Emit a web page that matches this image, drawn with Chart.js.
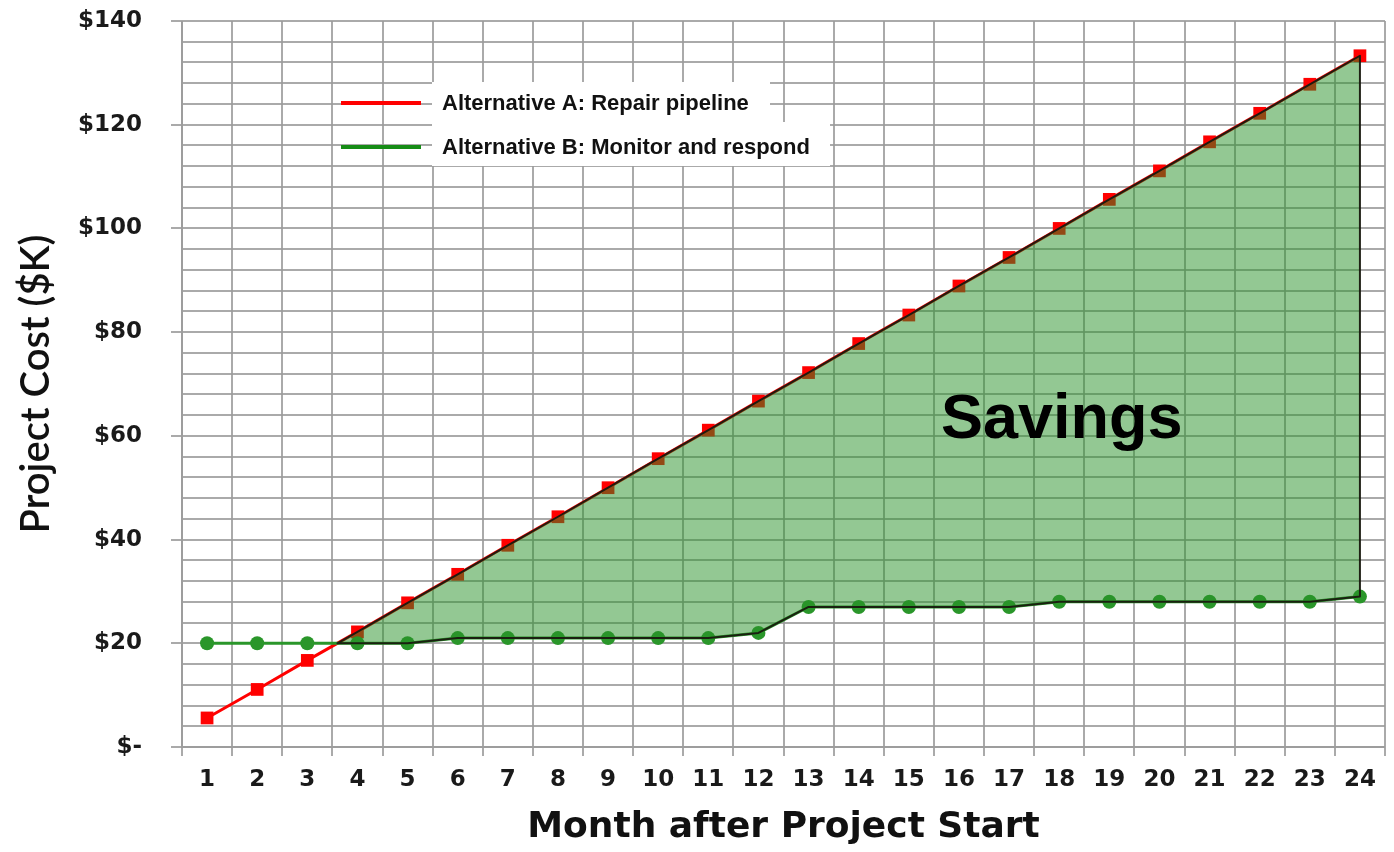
<!DOCTYPE html>
<html>
<head>
<meta charset="utf-8">
<script src="https://cdn.jsdelivr.net/npm/chart.js@4"></script>
<style>
  html, body { margin: 0; padding: 0; background: #ffffff; }
  #wrap { width: 1394px; height: 852px; }
</style>
</head>
<body>
<div id="wrap"><canvas id="c" width="1394" height="852"></canvas></div>
<script>
// ---- data ----
const months = ['1','2','3','4','5','6','7','8','9','10','11','12','13','14','15','16','17','18','19','20','21','22','23','24'];
const repairPipeline = [5.6, 11.1, 16.7, 22.2, 27.8, 33.3, 38.9, 44.4, 50.0, 55.6, 61.1, 66.7, 72.2, 77.8, 83.3, 88.9, 94.4, 100.0, 105.6, 111.1, 116.7, 122.2, 127.8, 133.3];
const monitorRespond = [20, 20, 20, 20, 20, 21, 21, 21, 21, 21, 21, 22, 27, 27, 27, 27, 27, 28, 28, 28, 28, 28, 28, 29];
const seriesNames = ['Alternative A: Repair pipeline', 'Alternative B: Monitor and respond'];
const yTickStep = 4;
const yMax = 140;
const savingsLabel = 'Savings';

const RED = '#ff0000';
const GREEN = '#2a962a';
const GRID = 'rgba(155,155,155,0.85)';
const TICKFONT = '"DejaVu Sans", Verdana, sans-serif';

const savingsPlugin = {
  id: 'savings',
  afterDatasetsDraw(chart) {
    const {ctx, scales: {x, y}} = chart;
    const r = repairPipeline, g = monitorRespond;
    const runs = [];
    let cur = null;
    for (let i = 0; i < r.length; i++) {
      const d = r[i] - g[i];
      if (i > 0) {
        const dp = r[i - 1] - g[i - 1];
        if ((dp > 0) !== (d > 0) && dp !== d) {
          const t = dp / (dp - d);
          const xi = i - 1 + t;
          const yi = r[i - 1] + t * (r[i] - r[i - 1]);
          if (d > 0) { cur = [{x: xi, r: yi, g: yi}]; }
          else if (cur) { cur.push({x: xi, r: yi, g: yi}); runs.push(cur); cur = null; }
        }
      }
      if (d > 0) { if (!cur) cur = []; cur.push({x: i, r: r[i], g: g[i]}); }
    }
    if (cur) runs.push(cur);
    ctx.save();
    ctx.beginPath();
    ctx.rect(chart.chartArea.left, chart.chartArea.top, chart.chartArea.width, chart.chartArea.height);
    ctx.clip();
    runs.forEach(run => {
      ctx.beginPath();
      run.forEach((p, k) => {
        const px = x.getPixelForValue(p.x), py = y.getPixelForValue(p.r);
        if (k === 0) ctx.moveTo(px, py); else ctx.lineTo(px, py);
      });
      for (let k = run.length - 1; k >= 0; k--) {
        const p = run[k];
        ctx.lineTo(x.getPixelForValue(p.x), y.getPixelForValue(p.g));
      }
      ctx.closePath();
      ctx.fillStyle = 'rgba(40,145,40,0.5)';
      ctx.fill();
      ctx.lineJoin = 'round';
      ctx.lineWidth = 2;
      ctx.strokeStyle = 'rgba(25,25,15,0.95)';
      ctx.stroke();
    });
    // label
    ctx.fillStyle = '#000';
    ctx.font = 'bold 63px "Liberation Sans", Arial, sans-serif';
    ctx.textAlign = 'center';
    ctx.textBaseline = 'middle';
    ctx.fillText(savingsLabel, x.getPixelForValue(17.05), y.getPixelForValue(63));
    ctx.restore();
  }
};

const legendPlugin = {
  id: 'customLegend',
  afterDraw(chart) {
    const ctx = chart.ctx;
    ctx.save();
    ctx.fillStyle = '#ffffff';
    ctx.fillRect(432, 82, 338, 44);
    ctx.fillRect(432, 122, 398, 44);
    const rows = [{c: RED, y: 103, t: seriesNames[0]}, {c: '#168c16', y: 147, t: seriesNames[1]}];
    rows.forEach(rw => {
      ctx.strokeStyle = rw.c;
      ctx.lineWidth = 4;
      ctx.beginPath();
      ctx.moveTo(341, rw.y); ctx.lineTo(421, rw.y);
      ctx.stroke();
      ctx.fillStyle = '#111';
      ctx.font = 'bold 22px "Liberation Sans", Arial, sans-serif';
      ctx.textAlign = 'left';
      ctx.textBaseline = 'middle';
      ctx.fillText(rw.t, 442, rw.y + 1);
    });
    ctx.restore();
  }
};

new Chart(document.getElementById('c'), {
  type: 'line',
  data: {
    labels: months,
    datasets: [
      {
        label: seriesNames[1],
        data: monitorRespond,
        borderColor: GREEN,
        backgroundColor: GREEN,
        borderWidth: 3,
        pointStyle: 'circle',
        pointRadius: 7,
        pointBorderWidth: 0,
        fill: false,
        tension: 0
      },
      {
        label: seriesNames[0],
        data: repairPipeline,
        borderColor: RED,
        backgroundColor: RED,
        borderWidth: 3,
        pointStyle: 'rect',
        pointRadius: 9,
        pointBorderWidth: 0,
        fill: false,
        tension: 0
      }
    ]
  },
  options: {
    responsive: false,
    animation: false,
    devicePixelRatio: 1,
    layout: { padding: { top: 21, right: 8, bottom: 0, left: 0 } },
    plugins: {
      legend: { display: false },
      tooltip: { enabled: false }
    },
    scales: {
      x: {
        type: 'category',
        offset: true,
        afterFit: s => { s.height = 105; },
        grid: {
          offset: true,
          color: GRID,
          lineWidth: 2,
          tickLength: 9,
          tickColor: GRID
        },
        border: { color: GRID, width: 2 },
        ticks: {
          color: '#1a1a1a',
          padding: 10,
          font: { family: TICKFONT, weight: 'bold', size: 23 },
          maxRotation: 0,
          autoSkip: false
        },
        title: {
          display: true,
          text: 'Month after Project Start',
          color: '#111',
          font: { family: TICKFONT, weight: 'bold', size: 36 },
          padding: { top: 0, bottom: 3 }
        }
      },
      y: {
        min: 0,
        max: yMax,
        afterFit: s => { s.width = 182; s.paddingTop = 14; },
        grid: {
          color: GRID,
          lineWidth: 2,
          tickLength: 11,
          tickColor: ctx => (ctx.tick && ctx.tick.value % 20 === 0) ? GRID : 'rgba(0,0,0,0)'
        },
        border: { color: GRID, width: 2 },
        ticks: {
          stepSize: yTickStep,
          autoSkip: false,
          padding: 29,
          color: '#1a1a1a',
          font: { family: TICKFONT, weight: 'bold', size: 23 },
          callback: v => (v % 20 === 0) ? (v === 0 ? '$-' : '$' + v) : ''
        },
        title: {
          display: true,
          text: 'Project Cost ($K)',
          color: '#111',
          font: { family: 'Lato, "Open Sans", sans-serif', weight: '600', size: 40 },
          padding: { top: 12, bottom: 0 }
        }
      }
    }
  },
  plugins: [savingsPlugin, legendPlugin]
});
</script>
</body>
</html>
